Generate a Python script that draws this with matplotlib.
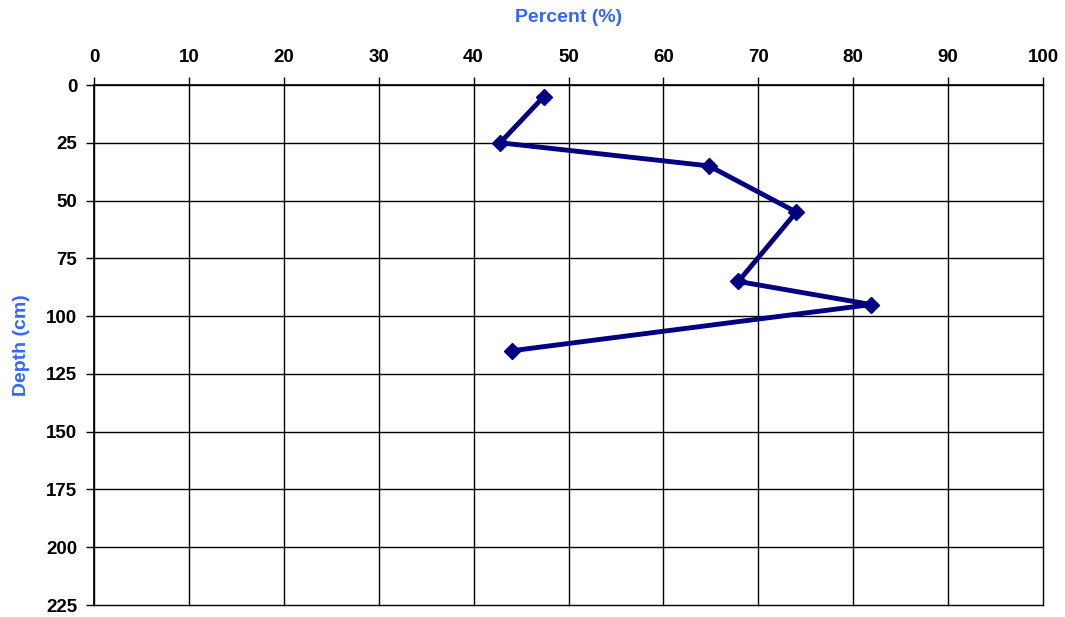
import numpy as np
import matplotlib.pyplot as plt

percent = [47.4, 42.8, 64.8, 74.0, 67.9, 81.9, 44.0]
depth = [5, 25, 35, 55, 85, 95, 115]

x_ticks = list(range(0, 101, 10))
y_ticks = list(range(0, 226, 25))

plt.rcParams['font.family'] = ['Liberation Sans', 'DejaVu Sans']

fig = plt.figure(figsize=(10.65, 6.17), dpi=100)
ax = fig.add_axes([94/1065, 1 - 605/617, (1043 - 94)/1065, 520/617])

ax.plot(percent, depth, color="#000080", lw=3.5, marker="D", ms=8, zorder=3)

ax.set_xlim(0, 100)
ax.set_ylim(225, 0)
ax.set_xticks(x_ticks)
ax.set_yticks(y_ticks)
ax.xaxis.tick_top()
ax.xaxis.set_label_position("top")
ax.grid(True, color="black", lw=1)
for gl in ax.get_xgridlines() + ax.get_ygridlines():
    gl.set_clip_on(False)
for s in ["right", "bottom"]:
    ax.spines[s].set_visible(False)
for s in ["left", "top"]:
    ax.spines[s].set_linewidth(1.2)
ax.tick_params(direction="out", length=6, width=1, labelsize=13.5)
ax.tick_params(axis="x", pad=8)
ax.tick_params(axis="y", pad=6)
for lab in ax.get_xticklabels() + ax.get_yticklabels():
    lab.set_fontweight("bold")

# axis titles placed where the reference has them
ax.set_xlabel("Percent (%)", color="#3366FF", fontsize=14, fontweight="bold")
ax.set_ylabel("Depth (cm)", color="#3366FF", fontsize=14, fontweight="bold")
ax.xaxis.set_label_coords(0.5, 1 + (85 - 18) / 520)
ax.xaxis.label.set_va("center")
ax.yaxis.set_label_coords(-(94 - 22) / 949, 0.5)
ax.yaxis.label.set_va("center")

fig.savefig("out.png", dpi=100)
